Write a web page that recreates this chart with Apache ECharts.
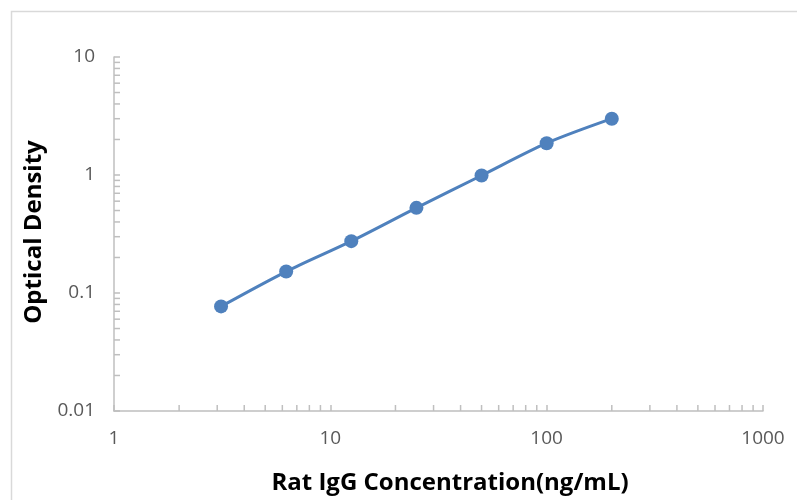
<!DOCTYPE html>
<html><head><meta charset="utf-8">
<script src="https://cdn.jsdelivr.net/npm/echarts@6/dist/echarts.min.js"></script>
<style>html,body{margin:0;padding:0;background:#fff}#c{width:797px;height:500px}</style>
</head><body><div id="c"></div>
<script>
const concentrations = [3.125, 6.25, 12.5, 25, 50, 100, 200];
const opticalDensity = [0.077, 0.152, 0.275, 0.527, 0.99, 1.86, 3.0];
const xMinorTicks = [2,3,4,5,6,7,8,9,20,30,40,50,60,70,80,90,200,300,400,500,600,700,800,900];
const yMinorTicks = [0.02,0.03,0.04,0.05,0.06,0.07,0.08,0.09,0.2,0.3,0.4,0.5,0.6,0.7,0.8,0.9,2,3,4,5,6,7,8,9];
const xTitle = 'Rat IgG Concentration(ng/mL)';
const yTitle = 'Optical Density';
const xMin = 1, xMax = 1000, yMin = 0.01, yMax = 10;

const chart = echarts.init(document.getElementById('c'), null, {renderer:'canvas'});
const font = '"Open Sans", Lato, sans-serif';
const axisColor = '#bfbfbf';
chart.setOption({
  animation: false,
  graphic: [
    {type:'rect', left:9, top:9, shape:{width:800, height:500}, style:{fill:'none', stroke:'#d9d9d9', lineWidth:1.5}, z:-1},
    {type:'text', x:450, y:483, style:{text:xTitle, fontFamily:font, fontSize:24, fontWeight:'bold', fill:'#000', align:'center', verticalAlign:'middle'}},
    {type:'text', x:34, y:232, rotation:Math.PI/2, style:{text:yTitle, fontFamily:font, fontSize:24, fontWeight:'bold', fill:'#000', align:'center', verticalAlign:'middle'}}
  ],
  grid: {left:114, right:34, top:57, bottom:89},
  xAxis: {
    type:'log', logBase:10, min:xMin, max:xMax,
    axisLine:{lineStyle:{color:axisColor, width:1.5}},
    axisTick:{inside:true, length:6, lineStyle:{color:axisColor, width:1.5}},
    axisLabel:{color:'#595959', fontSize:19, fontFamily:font, margin:18, formatter:v=>String(v)},
    splitLine:{show:false}
  },
  yAxis: {
    type:'log', logBase:10, min:yMin, max:yMax,
    axisLine:{show:true, lineStyle:{color:axisColor, width:1.5}},
    axisTick:{show:true, inside:true, length:6, lineStyle:{color:axisColor, width:1.5}},
    axisLabel:{color:'#595959', fontSize:19, fontFamily:font, margin:19, formatter:v=>String(v)},
    splitLine:{show:false}
  },
  series: [
    {
      type:'custom', silent:true, clip:false,
      data: xMinorTicks.map(v=>[v, yMin]),
      renderItem:(params, api)=>{
        const p = api.coord([api.value(0), api.value(1)]);
        return {type:'line', shape:{x1:p[0], y1:p[1], x2:p[0], y2:p[1]-6}, style:{stroke:axisColor, lineWidth:1.5}};
      }
    },
    {
      type:'custom', silent:true, clip:false,
      data: yMinorTicks.map(v=>[xMin, v]),
      renderItem:(params, api)=>{
        const p = api.coord([api.value(0), api.value(1)]);
        return {type:'line', shape:{x1:p[0], y1:p[1], x2:p[0]+6, y2:p[1]}, style:{stroke:axisColor, lineWidth:1.5}};
      }
    },
    {
      type:'line', smooth:0.3,
      data: concentrations.map((x,i)=>[x, opticalDensity[i]]),
      symbol:'circle', symbolSize:14,
      lineStyle:{color:'#4f81bd', width:3},
      itemStyle:{color:'#4f81bd'}
    }
  ]
});
</script></body></html>
